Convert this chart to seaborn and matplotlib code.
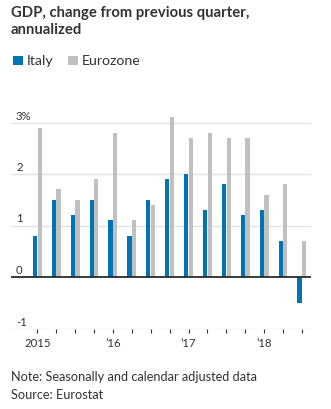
import matplotlib
matplotlib.use("Agg")
import matplotlib.pyplot as plt
from matplotlib.patches import Rectangle
import seaborn as sns
import pandas as pd

# Quarterly GDP growth, annualized, 2015 Q1 - 2018 Q3
quarters = ["2015Q1", "2015Q2", "2015Q3", "2015Q4",
            "2016Q1", "2016Q2", "2016Q3", "2016Q4",
            "2017Q1", "2017Q2", "2017Q3", "2017Q4",
            "2018Q1", "2018Q2", "2018Q3"]
italy = [0.8, 1.5, 1.2, 1.5, 1.1, 0.8, 1.5, 1.9, 2.0, 1.3, 1.8, 1.2, 1.3, 0.7, -0.5]
eurozone = [2.9, 1.7, 1.5, 1.9, 2.8, 1.1, 1.4, 3.1, 2.7, 2.8, 2.7, 2.7, 1.6, 1.8, 0.7]
series_names = ["Italy", "Eurozone"]
year_labels = ["2015", "\u201916", "\u201917", "\u201918"]
y_ticks = [-1, 0, 1, 2, 3]
y_tick_labels = ["-1", "0", "1", "2", "3%"]

BLUE = "#0274b6"
GREY = "#c0c0c0"
TEXT = "#333333"

df = pd.DataFrame({
    "quarter": quarters * 2,
    "value": italy + eurozone,
    "series": [series_names[0]] * len(quarters) + [series_names[1]] * len(quarters),
})

sns.set_theme(style="white")
plt.rcParams["font.family"] = ["Lato", "DejaVu Sans"]

W, H = 331, 410
fig = plt.figure(figsize=(W / 100, H / 100), dpi=100)

# axes placed in pixel coordinates
ax_left, ax_right = 11, 311
y_bottom_px = 329.5
px_per_unit = 51.5
ymin, ymax = -1, 3.2
ax_top = y_bottom_px - (ymax - ymin) * px_per_unit
ax = fig.add_axes([ax_left / W, 1 - y_bottom_px / H,
                   (ax_right - ax_left) / W, (y_bottom_px - ax_top) / H])

sns.barplot(data=df, x="quarter", y="value", hue="series",
            palette=[BLUE, GREY], width=0.5, gap=0.12,
            ax=ax, legend=False, saturation=1, linewidth=0, edgecolor="none")

ax.set_xlim(-1.39, 14.48)
ax.set_ylim(ymin, ymax)

# gridlines and value labels
for t, lab in zip(y_ticks, y_tick_labels):
    if t == 0:
        ax.axhline(t, color="#2b2b2b", lw=1.3, zorder=3)
    else:
        ax.axhline(t, color="#e2e2e2", lw=1.0, zorder=0)
    ax.annotate(lab, xy=(0, t), xycoords=("axes fraction", "data"),
                xytext=(5, 2), textcoords="offset pixels",
                ha="left", va="bottom", fontsize=8.2, color=TEXT)

for s in ax.spines.values():
    s.set_visible(False)
ax.set_yticks([])
ax.set_xlabel("")
ax.set_ylabel("")

# quarter ticks below the bottom line, year labels at every fourth
ax.set_xticks(range(len(quarters)))
ax.set_xticklabels([year_labels[i // 4] if i % 4 == 0 else "" for i in range(len(quarters))],
                   fontsize=8.2, color=TEXT)
ax.tick_params(axis="x", length=3, width=0.8, color="#333333", pad=3, direction="out",
               bottom=True)

# title
fig.text(11 / W, 1 - 5.5 / H, "GDP, change from previous quarter,\nannualized",
         ha="left", va="top", fontsize=10.7, fontweight="bold", color=TEXT,
         linespacing=1.3)

# legend
for x0, name, col in [(13, series_names[0], BLUE), (68, series_names[1], GREY)]:
    fig.patches.append(Rectangle((x0 / W, 1 - 66 / H), 9.5 / W, 9.5 / H,
                                 transform=fig.transFigure, color=col, lw=0))
    fig.text((x0 + 14) / W, 1 - 61 / H, name, ha="left", va="center",
             fontsize=10.2, color=TEXT)

# footnotes
fig.text(11 / W, 1 - 377 / H, "Note: Seasonally and calendar adjusted data",
         ha="left", va="center", fontsize=9.2, color=TEXT)
fig.text(11 / W, 1 - 395.5 / H, "Source: Eurostat",
         ha="left", va="center", fontsize=9.2, color=TEXT)

fig.savefig("out.png", dpi=100)
